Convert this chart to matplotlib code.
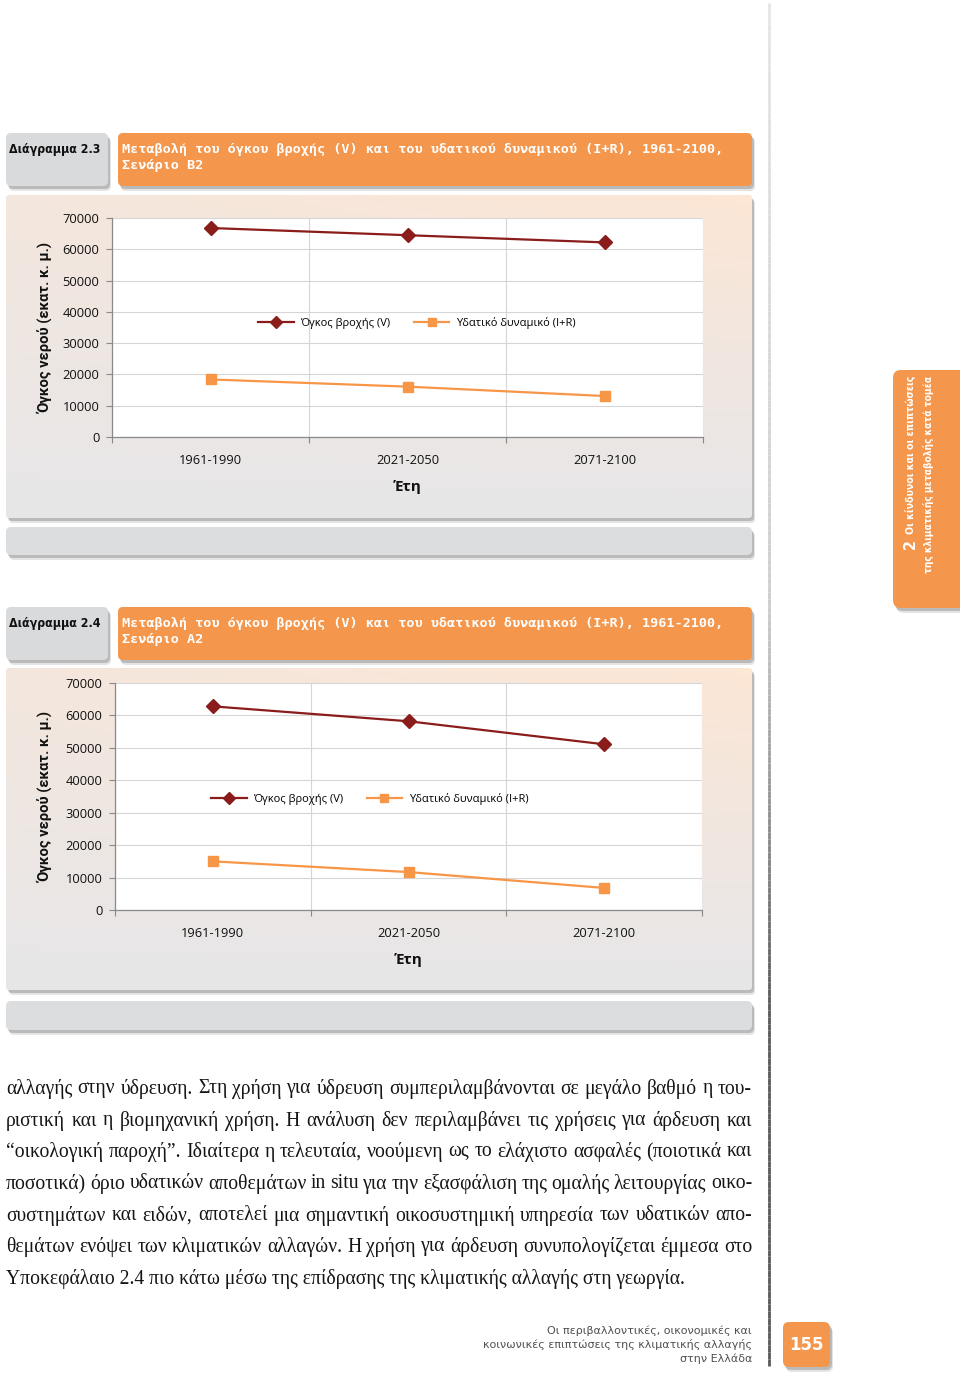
import os
import numpy as np
import matplotlib
matplotlib.use('Agg')
import matplotlib.pyplot as plt
from matplotlib.patches import FancyBboxPatch
from matplotlib.collections import LineCollection
from matplotlib import font_manager as fm

# ---------------- data ----------------
periods = ['1961-1990', '2021-2050', '2071-2100']
rain_b2 = [66800, 64500, 62200]      # Όγκος βροχής (V), Σενάριο Β2
water_b2 = [18400, 16100, 13100]     # Υδατικό δυναμικό (I+R), Σενάριο Β2
rain_a2 = [62800, 58200, 51100]      # Όγκος βροχής (V), Σενάριο Α2
water_a2 = [15000, 11700, 6800]      # Υδατικό δυναμικό (I+R), Σενάριο Α2
y_ticks = [0, 10000, 20000, 30000, 40000, 50000, 60000, 70000]
series_names = ['Όγκος βροχής (V)', 'Υδατικό δυναμικό (I+R)']
ylabel_text = 'Όγκος νερού (εκατ. κ. μ.)'
xlabel_text = 'Έτη'
diag_labels = ['Διάγραμμα 2.3', 'Διάγραμμα 2.4']
title_line1 = 'Μεταβολή του όγκου βροχής (V) και του υδατικού δυναμικού (I+R), 1961-2100,'
title_line2 = ['Σενάριο Β2', 'Σενάριο Α2']
body_lines = [
    'αλλαγής στην ύδρευση. Στη χρήση για ύδρευση συμπεριλαμβάνονται σε μεγάλο βαθμό η του-',
    'ριστική και η βιομηχανική χρήση. Η ανάλυση δεν περιλαμβάνει τις χρήσεις για άρδευση και',
    '“οικολογική παροχή”. Ιδιαίτερα η τελευταία, νοούμενη ως το ελάχιστο ασφαλές (ποιοτικά και',
    'ποσοτικά) όριο υδατικών αποθεμάτων in situ για την εξασφάλιση της ομαλής λειτουργίας οικο-',
    'συστημάτων και ειδών, αποτελεί μια σημαντική οικοσυστημική υπηρεσία των υδατικών απο-',
    'θεμάτων ενόψει των κλιματικών αλλαγών. Η χρήση για άρδευση συνυπολογίζεται έμμεσα στο',
    'Υποκεφάλαιο 2.4 πιο κάτω μέσω της επίδρασης της κλιματικής αλλαγής στη γεωργία.',
]
footer_lines = ['Οι περιβαλλοντικές, οικονομικές και',
                'κοινωνικές επιπτώσεις της κλιματικής αλλαγής',
                'στην Ελλάδα']
side_num = '2'
side_line1 = 'Οι κίνδυνοι και οι επιπτώσεις'
side_line2 = 'της κλιματικής μεταβολής κατά τομέα'
page_number = '155'

# ---------------- style ----------------
ORANGE = '#F4964B'
GRAYBOX = '#d9dadc'
RAIN_C = '#8B1C1C'
WATER_C = '#F79646'
plt.rcParams['font.family'] = ['Open Sans', 'DejaVu Sans']

W, H = 960, 1375
fig = plt.figure(figsize=(W / 100, H / 100), dpi=100)
fig.patch.set_facecolor('white')
bg = fig.add_axes([0, 0, 1, 1], zorder=0)
bg.set_xlim(0, W)
bg.set_ylim(H, 0)
bg.axis('off')
renderer = fig.canvas.get_renderer()


def find_font(names):
    files = {os.path.basename(f.fname).lower(): f.fname for f in fm.fontManager.ttflist}
    for n in names:
        if n in files:
            return files[n]
    return None


cond_bold_path = find_font(['notosans-condensedbold.ttf', 'dejavusanscondensed-bold.ttf',
                            'liberationsansnarrow-bold.ttf', 'opensans-condbold.ttf',
                            'robotocondensed-bold.ttf', 'opensans_condensed-bold.ttf'])


def fp_cond_bold(size):
    if cond_bold_path:
        return fm.FontProperties(fname=cond_bold_path, size=size)
    return fm.FontProperties(family=['Roboto', 'DejaVu Sans'], weight='bold', size=size)


def fp_label_bold(size):
    return fm.FontProperties(family=['Roboto', 'Open Sans', 'DejaVu Sans'], weight='bold', size=size)


def fit(text, factory, target_w, base=10.0):
    w = renderer.get_text_width_height_descent(text, factory(base), ismath=False)[0]
    return factory(base * target_w / w)


def rbox(x0, y0, x1, y1, color, r=5, shadow=True, z=1, ec='none'):
    if shadow:
        for dx, dy, a in [(3, 5, 0.18), (2, 3, 0.35)]:
            s = FancyBboxPatch((x0 + dx, y0 + dy), x1 - x0, y1 - y0,
                               boxstyle=f'round,pad=0,rounding_size={r}',
                               fc='#6e6e6e', ec='none', alpha=a, zorder=z - 0.5)
            bg.add_patch(s)
    p = FancyBboxPatch((x0, y0), x1 - x0, y1 - y0,
                       boxstyle=f'round,pad=0,rounding_size={r}',
                       fc=color, ec=ec, zorder=z)
    bg.add_patch(p)
    return p


def gradient_panel(x0, y0, x1, y1):
    p = rbox(x0, y0, x1, y1, '#e8e8e8', r=4, z=1)
    ny, nx = 80, 120
    yy, xx = np.mgrid[0:1:ny * 1j, 0:1:nx * 1j]
    w = (1 - yy) ** 1.1 * (0.6 + 0.4 * xx)
    peach = np.array([0.99, 0.905, 0.835])
    gray = np.array([0.905, 0.905, 0.91])
    img = gray[None, None, :] + (peach - gray)[None, None, :] * w[..., None]
    im = bg.imshow(img, extent=(x0, x1, y1, y0), origin='upper', aspect='auto', zorder=1.1)
    im.set_clip_path(p)


# right vertical separator line with gradient
ys = np.linspace(3, 1366, 200)
segs = [[(769, ys[i]), (769, ys[i + 1])] for i in range(len(ys) - 1)]
cols = []
for yv in ys[:-1]:
    if yv < 600:
        g = 0.90 - 0.10 * yv / 600
    elif yv < 1000:
        g = 0.80 - 0.45 * (yv - 600) / 400
    else:
        g = 0.35
    cols.append((g, g, g))
bg.add_collection(LineCollection(segs, colors=cols, linewidths=2.0, zorder=1))

# ---------------- headers and panels ----------------
layout = [
    dict(head=(133, 186), panel=(195, 518), bar=(527, 555),
         axes=(112, 218, 703, 437), leg=(0.516, 0.52), rain=rain_b2, water=water_b2),
    dict(head=(607, 660), panel=(668, 990), bar=(1001, 1030),
         axes=(115, 683, 702, 910), leg=(0.434, 0.49), rain=rain_a2, water=water_a2),
]

for i, L in enumerate(layout):
    h0, h1 = L['head']
    rbox(6, h0, 108, h1, GRAYBOX, r=5)
    bg.text(9, h0 + 16, diag_labels[i], fontproperties=fit(diag_labels[i], fp_cond_bold, 92),
            color='#111111', va='center', ha='left', zorder=5)
    rbox(118, h0, 752, h1, ORANGE, r=5)
    bg.text(122, h0 + 16, title_line1, family='DejaVu Sans Mono', weight='bold',
            size=9.7, color='white', va='center', ha='left', zorder=5)
    bg.text(122, h0 + 32, title_line2[i], family='DejaVu Sans Mono', weight='bold',
            size=9.7, color='white', va='center', ha='left', zorder=5)
    p0, p1 = L['panel']
    gradient_panel(6, p0, 752, p1)
    b0, b1 = L['bar']
    rbox(6, b0, 752, b1, '#dcdddf', r=5)

    l, t, r, b = L['axes']
    ax = fig.add_axes([l / W, 1 - b / H, (r - l) / W, (b - t) / H], zorder=3)
    ax.set_facecolor('white')
    x = np.arange(len(periods))
    ax.plot(x, L['rain'], color=RAIN_C, marker='D', ms=7, lw=1.6, label=series_names[0],
            zorder=4, clip_on=False)
    ax.plot(x, L['water'], color=WATER_C, marker='s', ms=7.5, lw=1.6, label=series_names[1],
            zorder=4, clip_on=False)
    ax.set_xlim(-0.5, len(periods) - 0.5)
    ax.set_ylim(0, 70000)
    ax.set_yticks(y_ticks)
    ax.set_yticklabels([str(v) for v in y_ticks])
    ax.set_xticks(x)
    ax.set_xticklabels(periods)
    ax.set_xticks(np.arange(-0.5, len(periods)), minor=True)
    ax.tick_params(axis='x', which='major', length=0, pad=12, labelsize=9.3, labelcolor='#111111')
    ax.tick_params(axis='x', which='minor', length=4.5, color='#8a8a8a', width=0.8)
    ax.tick_params(axis='y', length=4, color='#8a8a8a', width=0.8, pad=5, labelsize=9.3,
                   labelcolor='#111111')
    ax.grid(axis='y', color='#d6d6d6', lw=0.8)
    ax.grid(axis='x', which='minor', color='#d6d6d6', lw=0.8)
    ax.set_axisbelow(True)
    for s in ['top', 'right']:
        ax.spines[s].set_visible(False)
    for s in ['left', 'bottom']:
        ax.spines[s].set_color('#8a8a8a')
        ax.spines[s].set_linewidth(0.9)
    ax.set_ylabel(ylabel_text, fontproperties=fit(ylabel_text, fp_label_bold, 172), color='#111111')
    ax.yaxis.set_label_coords(-(l - 45) / (r - l), 0.5)
    ax.yaxis.label.set_va('center')
    ax.set_xlabel(xlabel_text, fontsize=11, fontweight='bold', color='#111111')
    ax.xaxis.set_label_coords(0.5, -50 / (b - t))
    ax.xaxis.label.set_va('center')
    ax.legend(ncol=2, loc='center', bbox_to_anchor=L['leg'], frameon=False,
              handlelength=3.2, columnspacing=2.1, handletextpad=0.6, fontsize=8.0,
              numpoints=1, markerscale=0.85)

# ---------------- side tab ----------------
rbox(893, 370, 975, 608, ORANGE, r=8, shadow=True, z=1)
bg.text(910, 549, side_num, fontproperties=fit(side_num, fp_cond_bold, 10), color='white',
        rotation=90, rotation_mode='anchor', ha='left', va='center', zorder=5)
bg.text(911, 376, side_line1, fontproperties=fit(side_line1, fp_cond_bold, 157), color='white',
        rotation=90, rotation_mode='anchor', ha='right', va='center', zorder=5)
bg.text(928, 376, side_line2, fontproperties=fit(side_line2, fp_cond_bold, 196), color='white',
        rotation=90, rotation_mode='anchor', ha='right', va='center', zorder=5)

# ---------------- body text (justified) ----------------
serif = 'Liberation Serif'


def tw(s, size):
    fp = fm.FontProperties(family=serif, size=size)
    return renderer.get_text_width_height_descent(s, fp, ismath=False)[0]


base = 14.0
size = base * 683.0 / tw(body_lines[-1], base)
left_x, right_x = 6.0, 752.0
line_y = [1089, 1121, 1152, 1184, 1216, 1247, 1279]
for j, line in enumerate(body_lines):
    yb = line_y[j]
    if j == len(body_lines) - 1:
        bg.text(left_x, yb, line, family=serif, size=size, color='#151515',
                va='center', ha='left', zorder=5)
        continue
    words = line.split()
    widths = [tw(wd, size) for wd in words]
    gap = (right_x - left_x - sum(widths)) / (len(words) - 1)
    xpos = left_x
    for wd, wv in zip(words, widths):
        bg.text(xpos, yb, wd, family=serif, size=size, color='#151515',
                va='center', ha='left', zorder=5)
        xpos += wv + gap

# ---------------- footer ----------------
for k, fl in enumerate(footer_lines):
    bg.text(752, 1331 + 14 * k, fl, family='DejaVu Sans', size=8, color='#505050',
            va='center', ha='right', zorder=5)
rbox(783, 1322, 830, 1367, ORANGE, r=6, shadow=True, z=2)
bg.text(806.5, 1345, page_number, family='DejaVu Sans', weight='bold', size=12,
        color='white', va='center', ha='center', zorder=5)

bg.set_xlim(0, W)
bg.set_ylim(H, 0)
fig.savefig('out.png', dpi=100)
